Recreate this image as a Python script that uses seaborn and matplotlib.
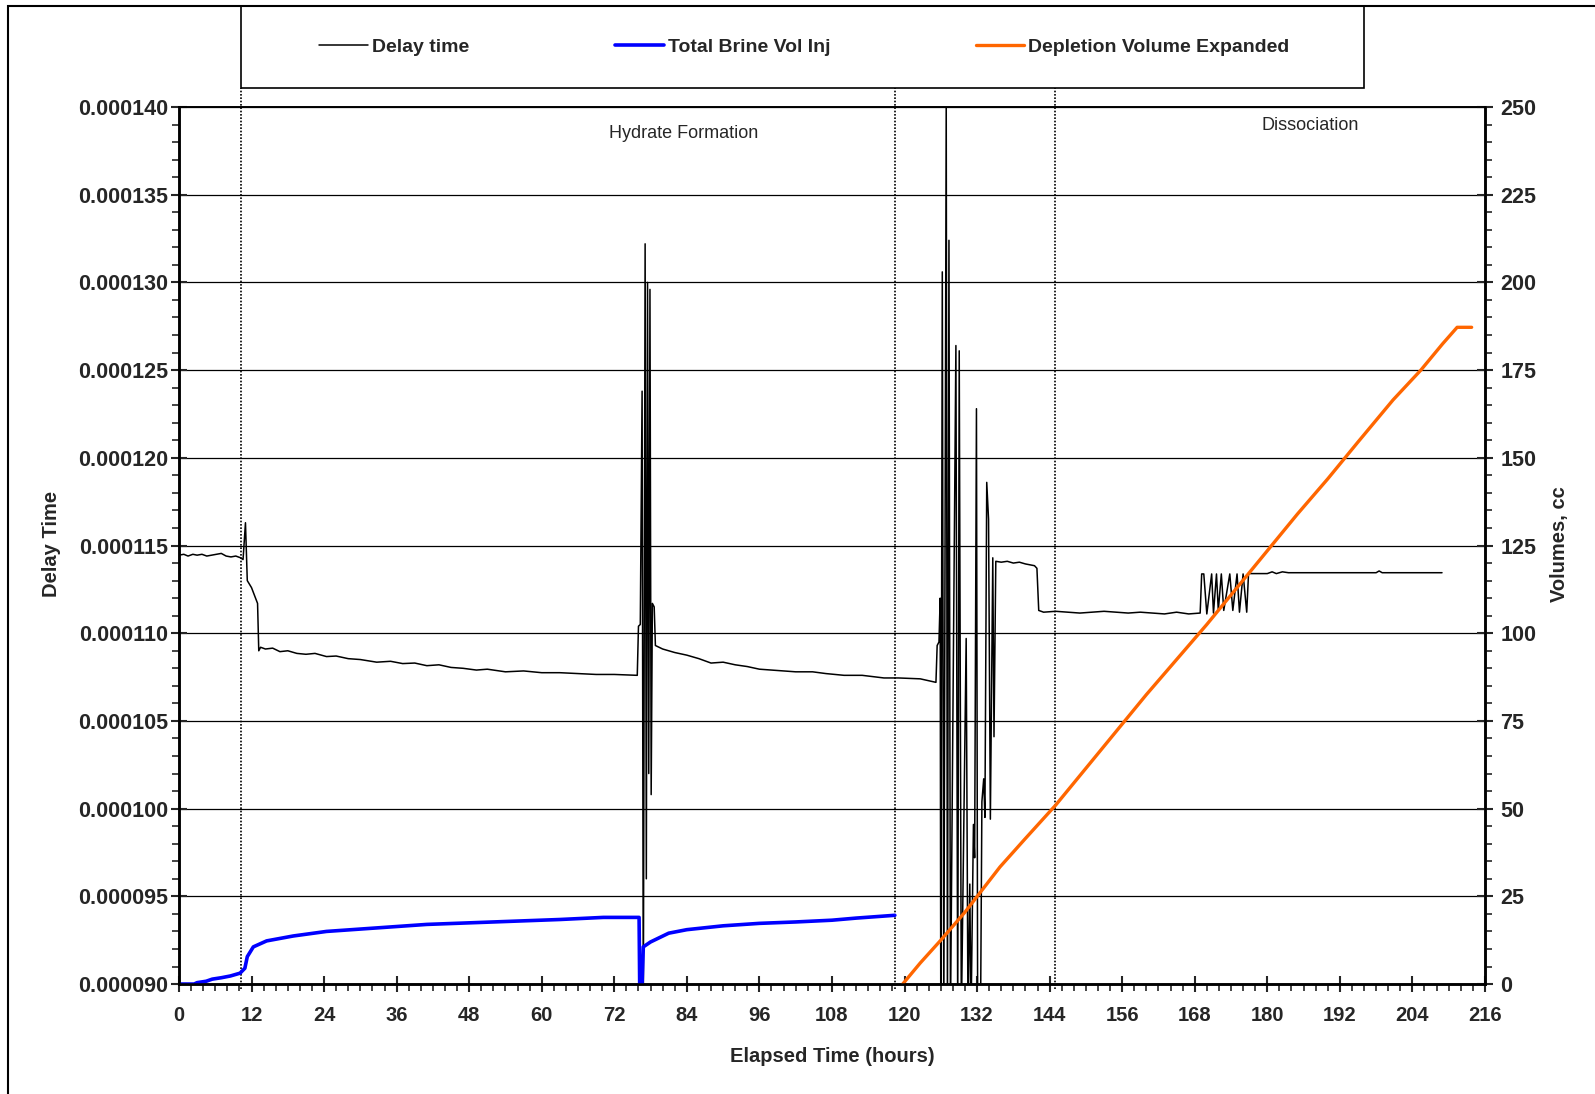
import numpy as np
import pandas as pd
import seaborn as sns
import matplotlib
matplotlib.use('Agg')
import matplotlib.pyplot as plt
from matplotlib.lines import Line2D
from matplotlib.patches import Rectangle
from matplotlib.ticker import MultipleLocator, FormatStrFormatter

# Delay time trace: elapsed hours and delay in microseconds
delay_hours = [
    0.0, 0.8, 1.5, 2.3, 3.0, 3.8, 4.6, 5.4, 6.2, 7.0, 7.8, 8.6, 9.4, 10.2,
    10.6, 11.0, 11.3, 12.0, 13.0, 13.2, 13.5, 14.3, 15.5, 16.7, 18.0, 19.5, 21.0, 22.5,
    24.4, 26.0, 28.0, 30.0, 32.7, 35.0, 37.0, 39.0, 41.0, 43.0, 45.0, 47.0, 49.2, 51.0,
    54.0, 57.0, 60.0, 63.0, 66.0, 69.0, 72.0, 75.8,
    76.0, 76.3, 76.6, 76.8, 77.1, 77.3, 77.5, 77.7, 77.9, 78.1, 78.3, 78.6, 78.8,
    80.0, 82.0, 84.0, 86.0, 88.0, 90.0, 92.0, 94.0, 96.0, 98.0, 100.0, 102.0, 104.8,
    107.0, 110.0, 113.0, 116.6, 119.0, 122.6, 125.2,
    125.4, 125.7, 125.9, 126.0, 126.25, 126.5, 126.9, 127.1, 127.35, 127.6, 128.5, 128.8,
    129.05, 129.4, 130.2, 130.5, 130.8, 131.0, 131.4, 131.6, 131.9, 132.1, 132.6, 132.8,
    133.1, 133.3, 133.6, 133.9, 134.2, 134.6, 134.8, 135.1, 136.0, 137.0, 138.0, 139.0,
    140.0, 141.5, 141.9, 142.2,
    143.0, 145.0, 147.0, 149.0, 151.0, 153.0, 155.0, 157.0, 159.0, 161.0, 163.0, 165.0,
    167.0, 168.9,
    169.15, 169.5, 170.0, 170.8, 171.1, 171.6, 171.9, 172.4, 172.8, 173.8, 174.3, 175.0,
    175.4, 176.0, 176.6, 176.9,
    180.0, 180.8, 181.5, 182.5, 183.5, 190.0, 198.0, 198.5, 199.0, 208.9,
]
delay_us = [
    114.45, 114.5, 114.4, 114.5, 114.45, 114.5, 114.4, 114.45, 114.5, 114.55, 114.4, 114.35, 114.4, 114.3,
    114.2, 116.3, 113.0, 112.6, 111.7, 109.0, 109.2, 109.1, 109.15, 108.95, 109.0, 108.85, 108.8, 108.85,
    108.67, 108.7, 108.55, 108.5, 108.35, 108.4, 108.27, 108.3, 108.15, 108.2, 108.05, 108.0, 107.9, 107.95,
    107.8, 107.85, 107.75, 107.75, 107.7, 107.65, 107.65, 107.6,
    110.4, 110.5, 123.8, 88.0, 132.2, 96.0, 130.0, 102.0, 129.6, 100.8, 111.7, 111.5, 109.3,
    109.1, 108.9, 108.75, 108.55, 108.3, 108.35, 108.2, 108.1, 107.95, 107.9, 107.85, 107.8, 107.8,
    107.7, 107.6, 107.6, 107.45, 107.45, 107.4, 107.2,
    109.3, 109.5, 112.0, 88.0, 130.6, 88.0, 140.5, 88.0, 132.4, 88.0, 126.4, 88.0,
    126.1, 88.0, 109.7, 88.0, 95.7, 88.0, 99.1, 97.2, 122.8, 88.0, 89.5, 100.4,
    101.7, 99.5, 118.6, 116.5, 99.4, 114.3, 104.1, 114.1, 114.05, 114.1, 114.0, 114.05,
    113.95, 113.85, 113.7, 111.3,
    111.2, 111.25, 111.2, 111.15, 111.2, 111.25, 111.2, 111.15, 111.2, 111.15, 111.1, 111.2,
    111.1, 111.15,
    113.38, 113.38, 111.1, 113.38, 111.15, 113.38, 111.3, 113.38, 111.3, 113.38, 111.3, 113.38,
    111.2, 113.38, 111.2, 113.4,
    113.4, 113.5, 113.4, 113.5, 113.45, 113.45, 113.45, 113.55, 113.45, 113.45,
]

# Total brine volume injected (cc)
brine_hours = [0.0, 2.5, 3.0, 4.5, 5.5, 7.0, 8.5, 10.1, 10.9, 11.3, 12.3, 14.5, 18.9, 24.4,
               32.7, 41.0, 52.0, 63.0, 70.2, 76.1, 76.2, 76.6, 76.8, 78.0, 81.0, 84.0,
               90.0, 96.0, 102.0, 108.0, 112.0, 118.4]
brine_cc = [0.0, 0.0, 0.4, 0.8, 1.4, 1.8, 2.3, 3.1, 4.5, 7.8, 10.6, 12.3, 13.7, 15.0,
            16.0, 17.0, 17.7, 18.4, 19.0, 19.0, 0.0, 0.0, 10.6, 12.0, 14.5, 15.5,
            16.6, 17.3, 17.7, 18.2, 18.8, 19.6]

# Depletion volume expanded (cc)
depl_hours = [119.7, 122.6, 126.0, 130.0, 135.8, 140.0, 145.0, 150.0, 155.0, 160.0, 165.0,
              170.0, 175.0, 180.0, 185.0, 190.0, 195.0, 200.8, 205.4, 209.0, 211.4, 213.8]
depl_cc = [0.0, 6.0, 12.5, 20.5, 33.4, 41.5, 51.0, 61.5, 72.0, 82.5, 92.5,
           102.5, 113.0, 123.5, 134.0, 144.0, 154.5, 166.5, 175.0, 182.5, 187.2, 187.2]

phase_lines = [10.3, 118.4, 144.9]

sns.set_style('white')
plt.rcParams['font.family'] = ['Liberation Sans', 'DejaVu Sans']
plt.rcParams['font.weight'] = 'bold'

fig = plt.figure(figsize=(15.95, 10.94), dpi=100)
ax = fig.add_axes([0.1122, 0.1005, 0.8188, 0.8017])
ax2 = ax.twinx()

delay_df = pd.DataFrame({'hours': delay_hours, 'delay': np.array(delay_us) * 1e-6})
brine_df = pd.DataFrame({'hours': brine_hours, 'vol': brine_cc})
depl_df = pd.DataFrame({'hours': depl_hours, 'vol': depl_cc})

sns.lineplot(data=delay_df, x='hours', y='delay', ax=ax, color='black', lw=1.1,
             estimator=None, sort=False)
sns.lineplot(data=brine_df, x='hours', y='vol', ax=ax2, color='#0000FF', lw=2.6,
             estimator=None, sort=False)
sns.lineplot(data=depl_df, x='hours', y='vol', ax=ax2, color='#FF6600', lw=2.4,
             estimator=None, sort=False)

ax.set_xlim(0, 216)
ax.set_ylim(90e-6, 140e-6)
ax2.set_ylim(0, 250)

ax.xaxis.set_major_locator(MultipleLocator(12))
ax.xaxis.set_minor_locator(MultipleLocator(2))
ax.yaxis.set_major_locator(MultipleLocator(5e-6))
ax.yaxis.set_minor_locator(MultipleLocator(1e-6))
ax.yaxis.set_major_formatter(FormatStrFormatter('%.6f'))
ax2.yaxis.set_major_locator(MultipleLocator(25))
ax2.yaxis.set_minor_locator(MultipleLocator(5))

ax.grid(axis='y', which='major', color='black', lw=0.9)
ax.grid(axis='x', visible=False)
ax2.grid(False)

ax.tick_params(axis='x', which='major', direction='inout', length=12, width=1.5,
               labelsize=14.5, pad=10, bottom=True)
ax.tick_params(axis='x', which='minor', direction='out', length=5, width=1.2, bottom=True)
ax.tick_params(axis='y', which='major', direction='inout', length=12, width=1.5,
               labelsize=15.5, pad=1.5, left=True, right=False)
ax.tick_params(axis='y', which='minor', direction='out', length=5, width=1.2, left=True, right=False)
ax2.tick_params(axis='y', which='major', direction='inout', length=12, width=1.5,
                labelsize=15.5, pad=5, right=True)
ax2.tick_params(axis='y', which='minor', direction='out', length=5, width=1.2, right=True)

for a in (ax, ax2):
    for side in ('left', 'bottom', 'right'):
        a.spines[side].set_color('black')
        a.spines[side].set_linewidth(1.8)
    a.spines['top'].set_color('black')
    a.spines['top'].set_linewidth(1.2)

ax.set_xlabel('')
ax.set_ylabel('')
ax2.set_ylabel('')

for x in phase_lines:
    ax.axvline(x, ymin=-0.006, ymax=1.022, color='black', lw=1.2, ls=(0, (1, 1)), clip_on=False)

ax.text(83.4, 138.5e-6, 'Hydrate Formation', ha='center', va='center', fontsize=13, fontweight='normal')
ax.text(187.1, 138.92e-6, 'Dissociation', ha='center', va='center', fontsize=13, fontweight='normal')

fig.text(0.5216, 0.0345, 'Elapsed Time (hours)', ha='center', va='center', fontsize=14.5, fontweight='bold')
fig.text(0.0325, 0.5027, 'Delay Time', ha='center', va='center', rotation=90, fontsize=14.5, fontweight='bold')
fig.text(0.978, 0.5027, 'Volumes, cc', ha='center', va='center', rotation=90, fontsize=14.5, fontweight='bold')

# outer frame (runs off right/bottom) and legend box
fig.add_artist(Rectangle((8 / 1595, -0.05), 1.1, 1 - 6 / 1094 + 0.05, transform=fig.transFigure,
                         fill=False, edgecolor='black', lw=1.5, clip_on=False))
fig.add_artist(Rectangle((0.1511, 0.920), 0.8552 - 0.1511, 0.9945 - 0.920, transform=fig.transFigure,
                         fill=False, edgecolor='black', lw=1.2))

handles = [Line2D([], [], color='black', lw=1.1),
           Line2D([], [], color='#0000FF', lw=2.6),
           Line2D([], [], color='#FF6600', lw=2.4)]
labels = ['Delay time', 'Total Brine Vol Inj', 'Depletion Volume Expanded']
fig.legend(handles, labels, loc='center', bbox_to_anchor=(0.5044, 0.957), ncol=3, frameon=False,
           handlelength=2.5, handletextpad=0.2, columnspacing=7.5,
           prop={'size': 14, 'weight': 'bold'})

fig.savefig('out.png', dpi=100)
